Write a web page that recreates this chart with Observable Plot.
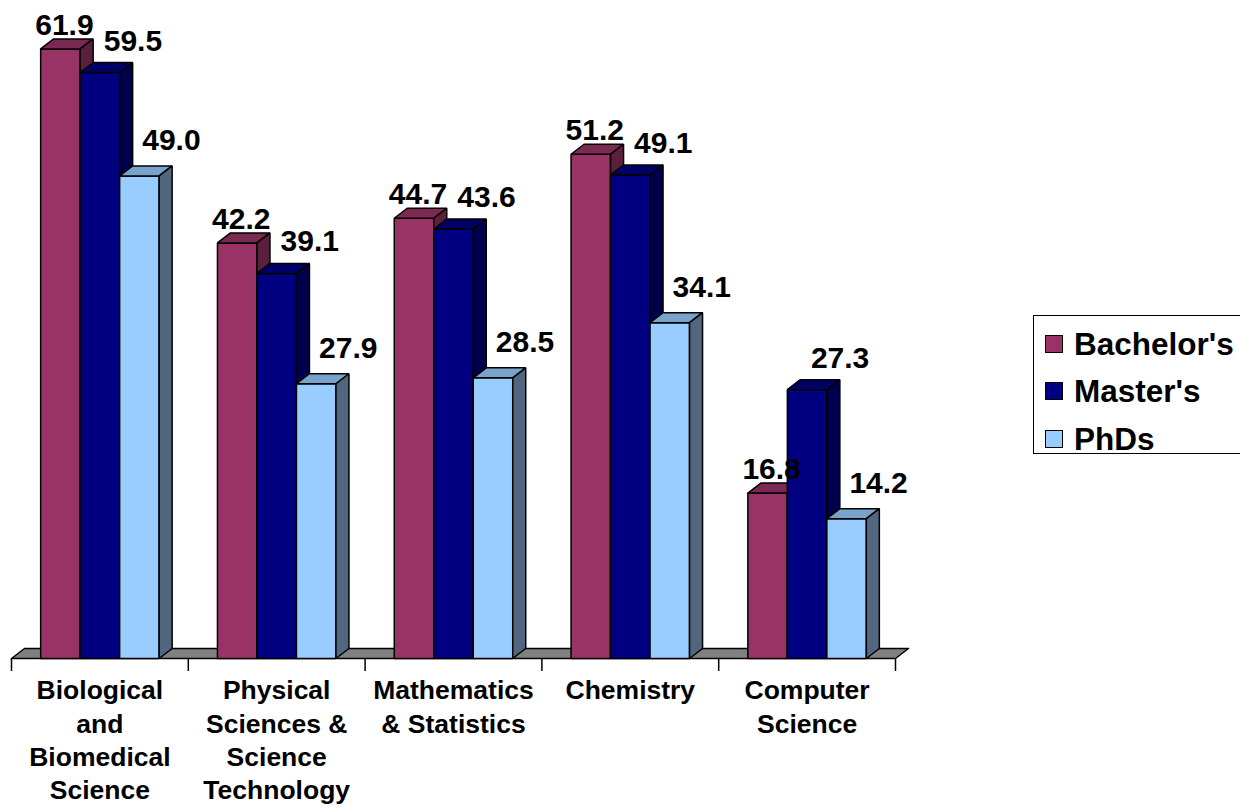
<!DOCTYPE html>
<html>
<head>
<meta charset="utf-8">
<script src="https://cdn.jsdelivr.net/npm/d3@7"></script>
<script src="https://cdn.jsdelivr.net/npm/@observablehq/plot@0.6"></script>
<style>
  html, body { margin: 0; padding: 0; background: #fff; }
  #wrap { position: relative; width: 1240px; height: 806px; overflow: hidden; font-family: "Liberation Sans", Arial, sans-serif; }
  #legend { position: absolute; left: 1033px; top: 315px; width: 240px; height: 139px; border: 1.5px solid #000; box-sizing: border-box; background: #fff; }
  .row { position: absolute; left: 11px; display: flex; align-items: center; font-weight: bold; font-size: 31.5px; line-height: 36px; color: #000; }
  .sw { width: 18px; height: 18px; border: 1.5px solid #000; margin-right: 11px; box-sizing: border-box; }
</style>
</head>
<body>
<div id="wrap"><div id="chart"></div><div id="legend"></div></div>
<script>
// ---- data ----
const categories = [
  "Biological\nand\nBiomedical\nScience",
  "Physical\nSciences &\nScience\nTechnology",
  "Mathematics\n& Statistics",
  "Chemistry",
  "Computer\nScience"
];
const seriesNames = ["Bachelor's", "Master's", "PhDs"];
const bachelors = [61.9, 42.2, 44.7, 51.2, 16.8];
const masters   = [59.5, 39.1, 43.6, 49.1, 27.3];
const phds      = [49.0, 27.9, 28.5, 34.1, 14.2];
const yMax = 66;

// ---- styles ----
const frontColors = ["#993366", "#000080", "#99CCFF"];
const topColors   = ["#7a2952", "#000066", "#7aa3cc"];
const sideColors  = ["#5c1f3d", "#00004d", "#52667f"];
const labelDx = [4, 33, 32];       // px nudge of value labels per series
const labelDy = [-14, -22, -26];   // px nudge of value labels per series

// ---- layout ----
const W = 1240, H = 806;
const marginLeft = 11, marginRight = 345, marginTop = 8, marginBottom = 148;
const barFrac = 0.2234;           // bar width as fraction of category slot
const depthPx = [13, 10];         // 3D depth offset in pixels
const pxPerX = (W - marginLeft - marginRight) / categories.length;
const pxPerY = (H - marginTop - marginBottom) / yMax;
const ddx = depthPx[0] / pxPerX, ddy = depthPx[1] / pxPerY;

const values = [bachelors, masters, phds];
const polys = [];
const labels = [];
categories.forEach((c, i) => {
  values.forEach((vals, j) => {
    const v = vals[i];
    const x0 = i + 0.5 - 1.5 * barFrac + j * barFrac, x1 = x0 + barFrac;
    const id = `${i}-${j}`;
    const push = (face, fill, pts) => pts.forEach(([x, y]) => polys.push({poly: id + face, x, y, fill}));
    push("f", frontColors[j], [[x0, 0], [x1, 0], [x1, v], [x0, v]]);
    push("t", topColors[j], [[x0, v], [x1, v], [x1 + ddx, v + ddy], [x0 + ddx, v + ddy]]);
    push("s", sideColors[j], [[x1, 0], [x1 + ddx, ddy], [x1 + ddx, v + ddy], [x1, v]]);
    labels.push({series: j, x: (x0 + x1) / 2, y: v, text: v.toFixed(1)});
  });
});
const floor = [[0, 0], [categories.length, 0], [categories.length + ddx, ddy], [ddx, ddy]].map(([x, y]) => ({x, y}));
const catLabels = categories.map((c, i) => ({x: i + 0.5, text: c}));

const chart = Plot.plot({
  width: W, height: H,
  marginLeft, marginRight, marginTop, marginBottom,
  x: {type: "linear", domain: [0, categories.length], axis: null},
  y: {domain: [0, yMax], axis: null},
  color: {type: "identity"},
  style: {fontFamily: "Liberation Sans, Arial, sans-serif", background: "#fff"},
  marks: [
    Plot.line(floor, {x: "x", y: "y", fill: "#808080", stroke: "#000", strokeWidth: 1.5, curve: "linear-closed"}),
    Plot.axisX({ticks: d3.range(categories.length + 1), tickSize: 13, tickFormat: () => "", label: null, stroke: "#000", strokeWidth: 1.5}),
    Plot.line(polys, {x: "x", y: "y", z: "poly", fill: "fill", stroke: "#000", strokeWidth: 1.5, strokeLinejoin: "miter", curve: "linear-closed"}),
    ...seriesNames.map((s, j) => Plot.text(labels.filter(d => d.series === j), {
      x: "x", y: "y", text: "text", dx: labelDx[j], dy: labelDy[j],
      lineAnchor: "bottom", fontSize: 30, fontWeight: "bold", fill: "#000"
    })),
    Plot.text(catLabels, {x: "x", y: 0, text: "text", lineAnchor: "top", dy: 17, lineHeight: 1.26,
      fontSize: 26.5, fontWeight: "bold", fill: "#000"})
  ]
});
document.getElementById("chart").appendChild(chart);

// legend
const legend = document.getElementById("legend");
const rowCenters = [28, 75, 123];
seriesNames.forEach((s, j) => {
  const row = document.createElement("div");
  row.className = "row";
  row.style.top = (rowCenters[j] - 18) + "px";
  row.innerHTML = `<div class="sw" style="background:${frontColors[j]}"></div><span>${s}</span>`;
  legend.appendChild(row);
});
</script>
</body>
</html>
